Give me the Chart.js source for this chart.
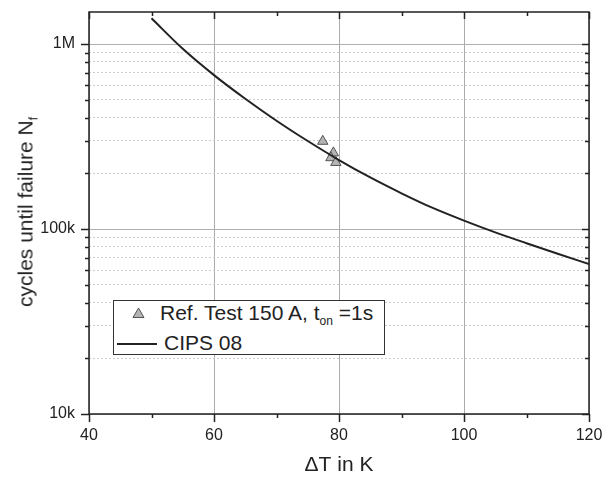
<!DOCTYPE html>
<html>
<head>
<meta charset="utf-8">
<script src="https://cdn.jsdelivr.net/npm/chart.js@4.4.1/dist/chart.umd.min.js"></script>
<style>
  body { margin: 0; background: #fff; }
  #wrap { position: relative; width: 604px; height: 480px; font-family: "Liberation Sans", Arial, sans-serif; color: #222; }
  #ytitle { position: absolute; left: 27px; top: 212px; transform: translate(-50%, -50%) rotate(-90deg); font-size: 21px; white-space: nowrap; }
  sub { font-size: 12px; vertical-align: -5px; color: #222; }
  #legend { position: absolute; left: 113px; top: 300px; width: 272px; height: 55px; border: 1px solid #333; background: #fff; box-sizing: border-box; font-size: 21px; }
  #legend .row { position: absolute; white-space: nowrap; line-height: 22px; }
  #legend .sym { position: absolute; }
</style>
</head>
<body>
<div id="wrap">
  <canvas id="chart" width="604" height="480"></canvas>
  <div id="ytitle">cycles until failure N<sub>f</sub></div>
  <div id="legend">
    <svg class="sym" style="left:18px; top:6px" width="13" height="12"><polygon points="6.5,1 12,10.5 1,10.5" fill="#b4b4b4" stroke="#555" stroke-width="1"/></svg>
    <div class="row" style="left:46px; top:1px">Ref. Test 150 A, t<sub>on</sub> =1s</div>
    <svg class="sym" style="left:2px; top:40px" width="42" height="6"><line x1="1" y1="3" x2="41" y2="3" stroke="#222" stroke-width="2"/></svg>
    <div class="row" style="left:50px; top:31px">CIPS 08</div>
  </div>
</div>
<script>
// CIPS 08 curve
const curveDT = [50, 55, 60, 65, 70, 75, 80, 85, 90, 95, 100, 105, 110, 115, 120];
const curveN = [1377000, 942000, 679000, 506000, 385000, 299000, 236000, 190000, 156000, 130000, 111000, 95900, 83800, 73500, 64600];

// Reference test points
const testDT = [77.4, 79.1, 78.7, 79.5];
const testN = [298000, 258000, 243000, 229000];

// axis ticks
const xTickLabels = ['40', '60', '80', '100', '120'];
const yTickValues = [10000, 100000, 1000000];
const yTickLabels = ['10k', '100k', '1M'];

const font = { family: '"Liberation Sans", Arial, sans-serif', size: 16 };

// frame + tick marks on all four sides
const frameTicks = {
  id: 'frameTicks',
  afterDraw(chart) {
    const { ctx, chartArea: a, scales: { x, y } } = chart;
    ctx.save();
    ctx.strokeStyle = '#222';
    ctx.lineWidth = 1.5;
    const seg = (x1, y1, x2, y2) => { ctx.beginPath(); ctx.moveTo(x1, y1); ctx.lineTo(x2, y2); ctx.stroke(); };
    x.ticks.forEach(t => {
      const px = Math.round(x.getPixelForValue(t.value)) + 0.5;
      const major = xTickLabels.includes(String(t.value));
      seg(px, a.bottom, px, a.bottom + (major ? 8 : 4));
      seg(px, a.top, px, a.top + (major ? 7 : 4));
    });
    y.ticks.forEach(t => {
      const py = Math.round(y.getPixelForValue(t.value)) + 0.5;
      seg(a.left - (t.major ? 8 : 4), py, a.left, py);
      seg(a.right - (t.major ? 7 : 4), py, a.right, py);
    });
    ctx.strokeRect(a.left, a.top, a.right - a.left, a.bottom - a.top);
    ctx.restore();
  }
};

new Chart(document.getElementById('chart'), {
  type: 'scatter',
  data: {
    datasets: [
      {
        label: 'CIPS 08',
        data: curveDT.map((v, i) => ({ x: v, y: curveN[i] })),
        showLine: true,
        borderColor: '#222',
        borderWidth: 2,
        pointRadius: 0,
        cubicInterpolationMode: 'monotone',
        order: 0
      },
      {
        label: 'Ref. Test 150 A',
        data: testDT.map((v, i) => ({ x: v, y: testN[i] })),
        pointStyle: 'triangle',
        pointRadius: 6,
        backgroundColor: '#b4b4b4',
        borderColor: '#555',
        borderWidth: 1,
        order: 1
      }
    ]
  },
  options: {
    responsive: false,
    animation: false,
    layout: { padding: { top: 12, right: 15, left: 0, bottom: 0 } },
    plugins: { legend: { display: false }, tooltip: { enabled: false } },
    scales: {
      x: {
        type: 'linear',
        min: 40,
        max: 120,
        afterFit: s => { s.height = 66; s.paddingLeft = 0; s.paddingRight = 0; },
        ticks: {
          stepSize: 10,
          autoSkip: false,
          maxRotation: 0,
          padding: 12,
          color: '#222',
          font,
          callback: v => xTickLabels.includes(String(v)) ? String(v) : ''
        },
        grid: {
          drawTicks: false,
          lineWidth: 1,
          color: ctx => ctx.tick && ctx.tick.value % 20 === 0 ? '#ababab' : 'rgba(0,0,0,0)'
        },
        border: { display: false },
        title: {
          display: true,
          text: 'ΔT in K',
          color: '#222',
          font: { family: font.family, size: 21 },
          padding: { top: 0, bottom: 2 }
        }
      },
      y: {
        type: 'logarithmic',
        min: 10000,
        max: 1490000,
        afterFit: s => { s.width = 89; s.paddingTop = 0; s.paddingBottom = 0; },
        afterBuildTicks: s => {
          const t = [];
          [4, 5, 6].forEach(k => {
            for (let m = 1; m <= 9; m++) {
              const v = m * Math.pow(10, k);
              if (v >= s.min && v <= s.max) t.push({ value: v, major: m === 1 });
            }
          });
          s.ticks = t;
        },
        ticks: {
          autoSkip: false,
          padding: 14,
          color: '#222',
          font,
          callback: v => {
            const i = yTickValues.indexOf(v);
            return i >= 0 ? yTickLabels[i] : '';
          }
        },
        grid: {
          drawTicks: false,
          lineWidth: 1,
          color: ctx => ctx.tick && ctx.tick.major ? '#b0b0b0' : '#cdcdcd'
        },
        border: {
          display: false,
          dash: ctx => (ctx.tick && !ctx.tick.major) ? [2, 2] : []
        }
      }
    }
  },
  plugins: [frameTicks]
});
</script>
</body>
</html>
